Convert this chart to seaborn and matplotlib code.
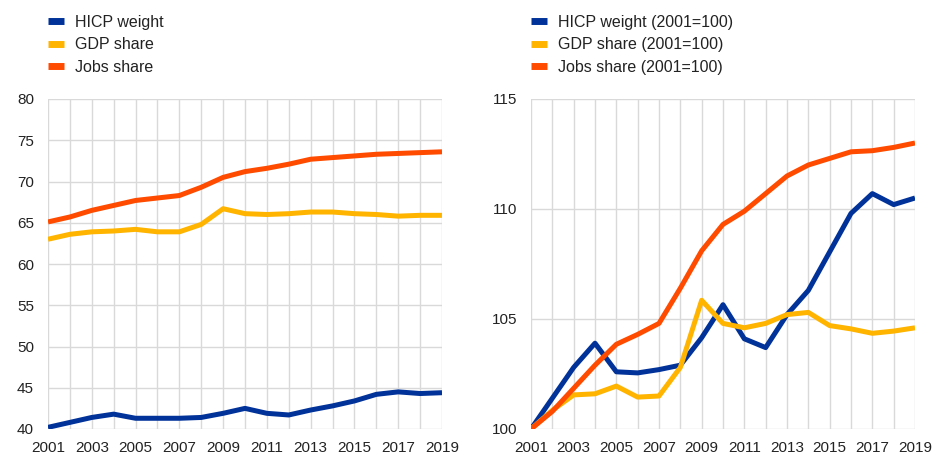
import numpy as np
import pandas as pd
import matplotlib
matplotlib.use("Agg")
import matplotlib.pyplot as plt
import seaborn as sns

# data
years = list(range(2001, 2020))

hicp_weight = [40.2, 40.8, 41.4, 41.8, 41.3, 41.3, 41.3, 41.4, 41.9, 42.5,
               41.9, 41.7, 42.3, 42.8, 43.4, 44.2, 44.5, 44.3, 44.4]
gdp_share = [63.0, 63.6, 63.9, 64.0, 64.2, 63.9, 63.9, 64.8, 66.7, 66.1,
             66.0, 66.1, 66.3, 66.3, 66.1, 66.0, 65.8, 65.9, 65.9]
jobs_share = [65.1, 65.7, 66.5, 67.1, 67.7, 68.0, 68.3, 69.3, 70.5, 71.2,
              71.6, 72.1, 72.7, 72.9, 73.1, 73.3, 73.4, 73.5, 73.6]

hicp_idx = [100.0, 101.4, 102.8, 103.9, 102.6, 102.55, 102.7, 102.9, 104.15, 105.65,
            104.1, 103.7, 105.2, 106.3, 108.05, 109.8, 110.7, 110.2, 110.5]
gdp_idx = [100.0, 100.85, 101.55, 101.6, 101.95, 101.45, 101.5, 102.8, 105.85, 104.8,
           104.6, 104.8, 105.2, 105.3, 104.7, 104.55, 104.35, 104.45, 104.6]
jobs_idx = [100.0, 100.8, 101.85, 102.9, 103.85, 104.3, 104.8, 106.4, 108.1, 109.3,
            109.9, 110.7, 111.5, 112.0, 112.3, 112.6, 112.65, 112.8, 113.0]

labels_left = ['HICP weight', 'GDP share', 'Jobs share']
labels_right = ['HICP weight (2001=100)', 'GDP share (2001=100)', 'Jobs share (2001=100)']
colors = ['#003299', '#FFB400', '#FF4B00']

sns.set_style('white')
plt.rcParams['font.family'] = ['Liberation Sans', 'DejaVu Sans']

fig = plt.figure(figsize=(9.39, 4.58), dpi=100)
W, H = 939, 458
ax1 = fig.add_axes([48 / W, 1 - 429 / H, (442 - 48) / W, (429 - 99) / H])
ax2 = fig.add_axes([531 / W, 1 - 429 / H, (915 - 531) / W, (429 - 99) / H])

panels = [
    (ax1, [hicp_weight, gdp_share, jobs_share], labels_left, (40, 80), np.arange(40, 81, 5)),
    (ax2, [hicp_idx, gdp_idx, jobs_idx], labels_right, (100, 115), np.arange(100, 116, 5)),
]

for ax, series, labels, ylim, yticks in panels:
    for vals, lab, col in zip(series, labels, colors):
        sns.lineplot(x=years, y=vals, ax=ax, color=col, linewidth=3.6, label=lab,
                     solid_capstyle='butt')
    ax.set_xlim(2001, 2019)
    ax.set_ylim(*ylim)
    ax.set_xticks(years)
    ax.set_xticklabels([str(y) if (y - 2001) % 2 == 0 else '' for y in years])
    ax.set_yticks(yticks)
    ax.grid(True, color='#d9d9d9', linewidth=1)
    ax.set_axisbelow(True)
    for s in ax.spines.values():
        s.set_visible(False)
    ax.tick_params(axis='both', length=0, labelsize=11, colors='#222222')
    ax.tick_params(axis='x', pad=9)
    ax.tick_params(axis='y', pad=10)
    pos = ax.get_position()
    leg = ax.legend(loc='upper left', bbox_to_anchor=(pos.x0, 1 - 15 / H),
                    bbox_transform=fig.transFigure, frameon=False, fontsize=11.5,
                    handlelength=1.0, handletextpad=0.7, labelspacing=0.46,
                    borderpad=0, borderaxespad=0)
    for line in leg.get_lines():
        line.set_linewidth(5)
    for t in leg.get_texts():
        t.set_color('#222222')

fig.savefig('out.png', dpi=100)
